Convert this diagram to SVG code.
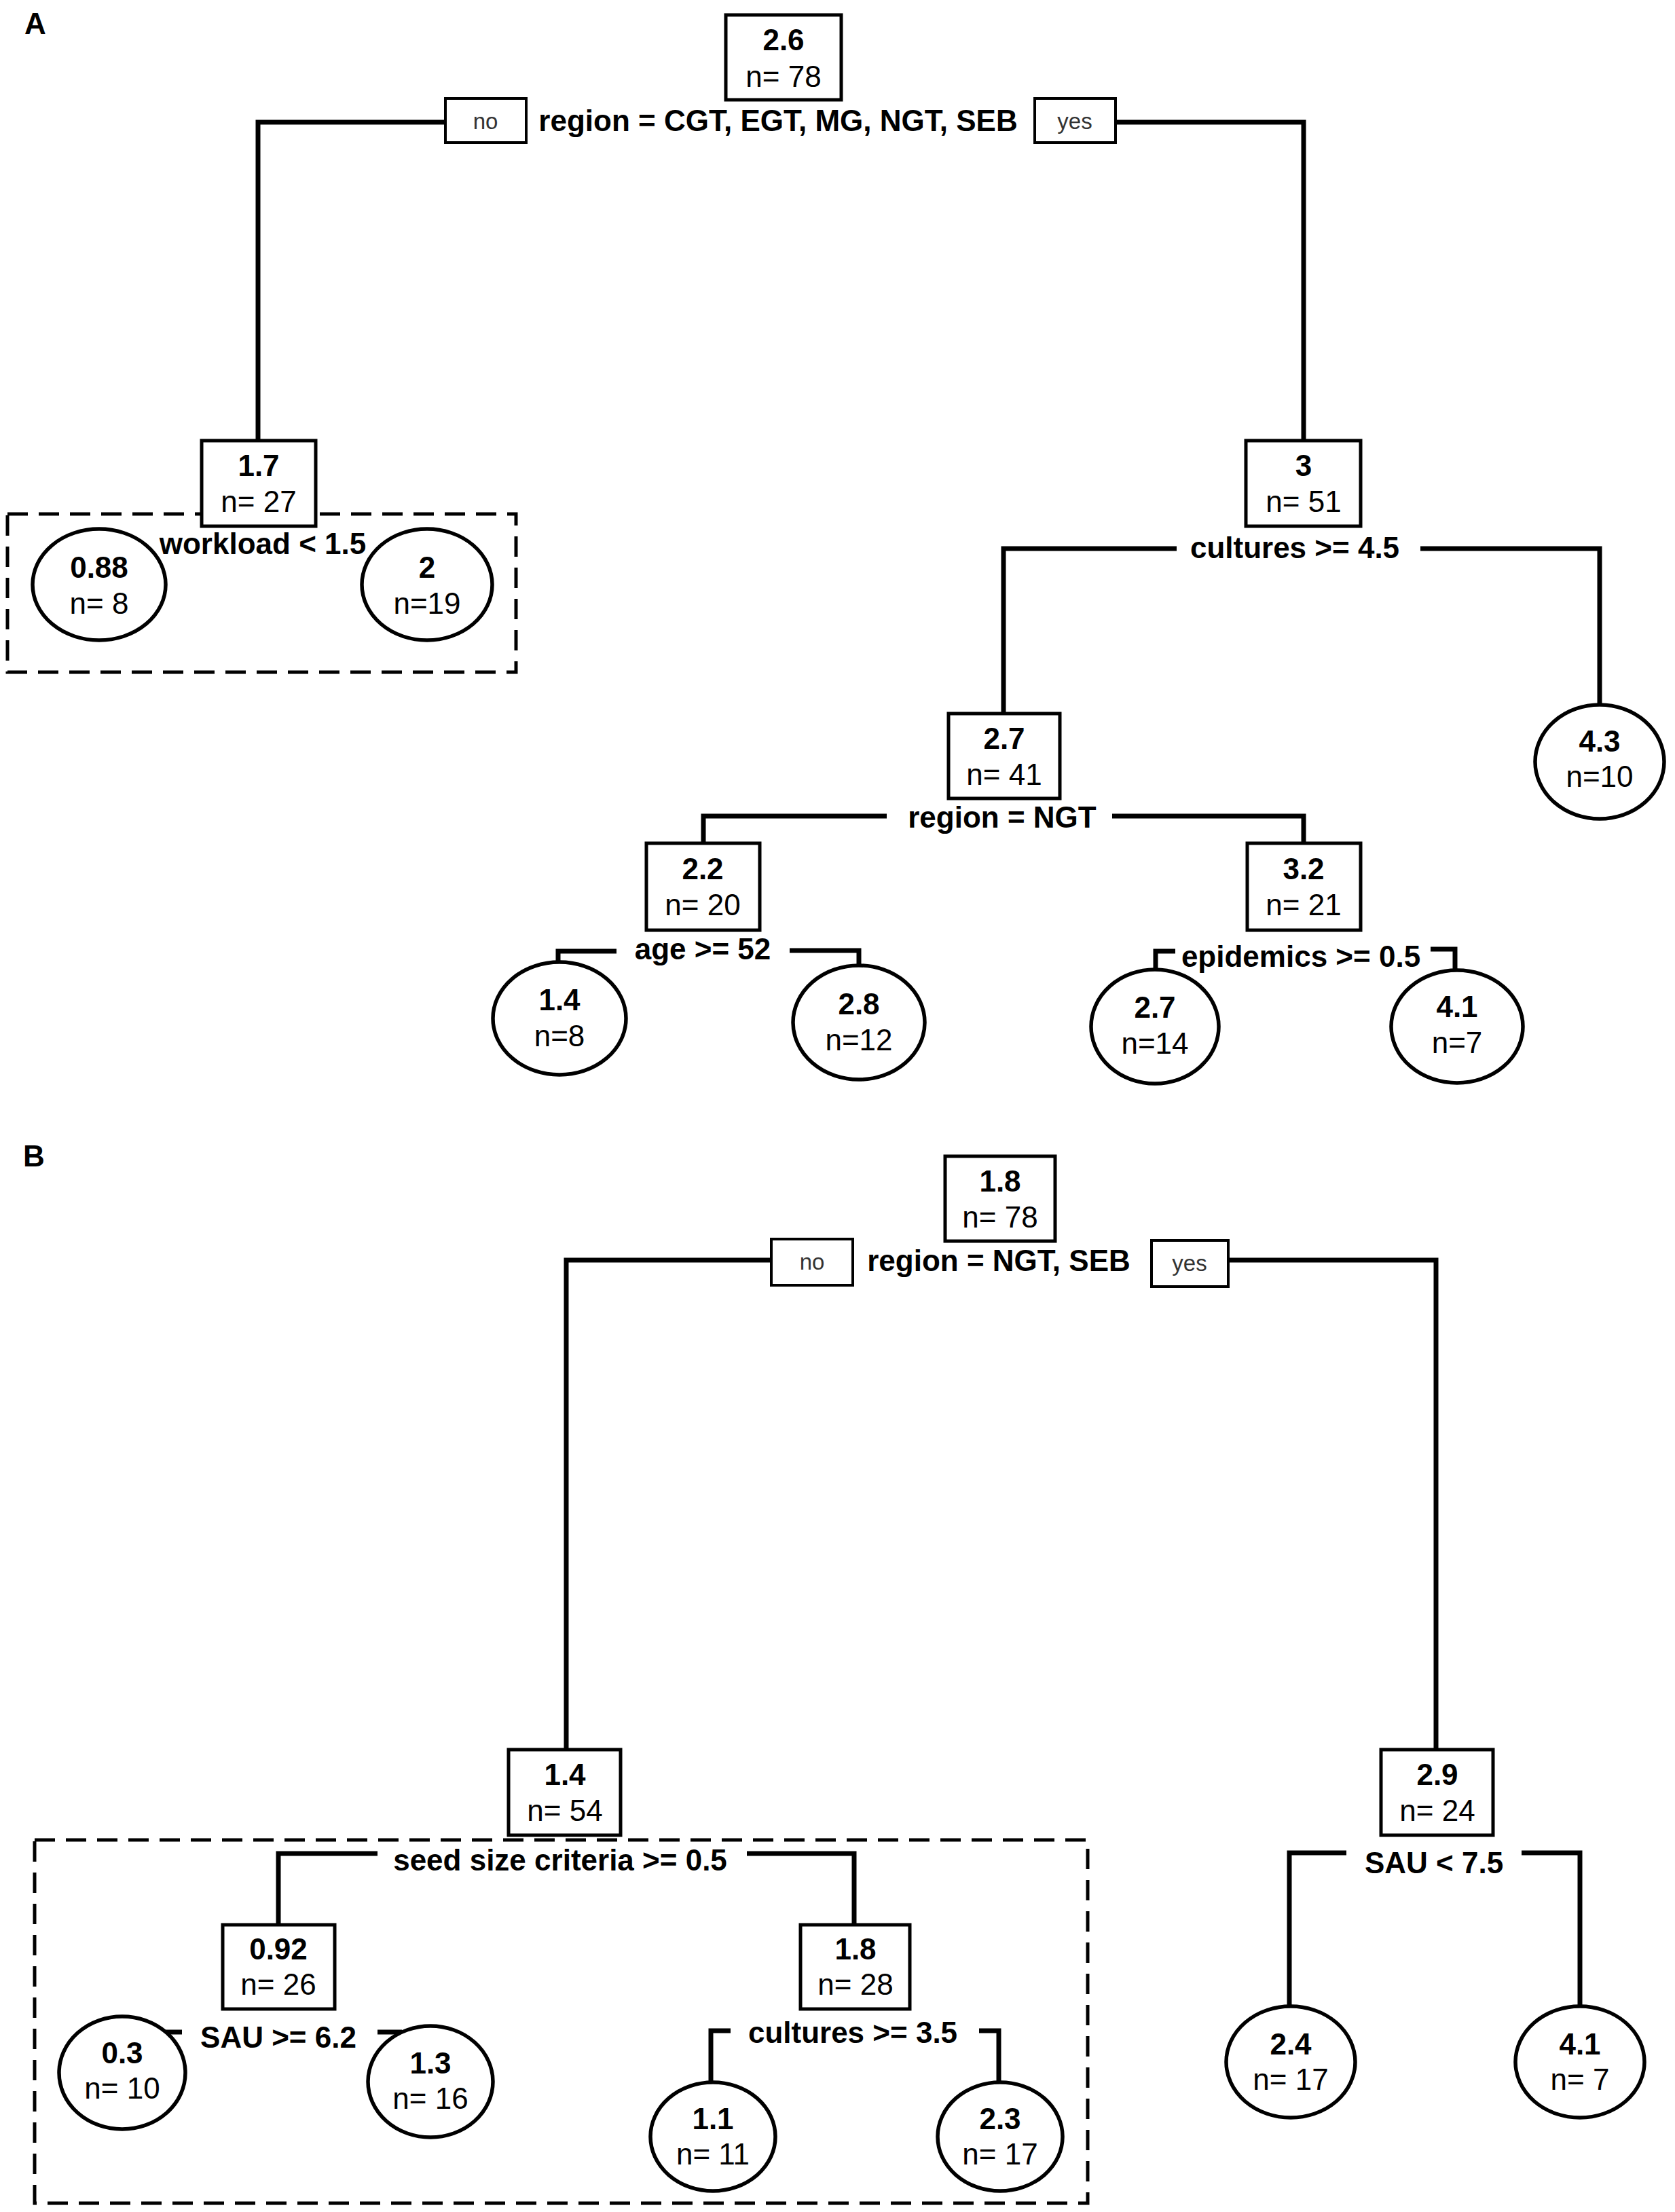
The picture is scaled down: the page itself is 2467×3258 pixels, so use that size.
<svg xmlns="http://www.w3.org/2000/svg" width="2467" height="3258" viewBox="0 0 2467 3258">
<style>
.bg{fill:#fff}
.box{fill:#fff;stroke:#000;stroke-width:5}
.leaf{fill:#fff;stroke:#000;stroke-width:5.5}
.yn{fill:#fff;stroke:#000;stroke-width:4}
.edge{fill:none;stroke:#000;stroke-width:7;stroke-linejoin:miter}
.dash{fill:none;stroke:#000;stroke-width:5;stroke-dasharray:30 16}
text{font-family:"Liberation Sans",Arial,sans-serif;text-anchor:middle;fill:#000}
.v{font-size:44px;font-weight:bold}
.n{font-size:44px}
.lbl{font-size:44px;font-weight:bold}
.ynt{font-size:33px;fill:#333}
.panel{font-size:44px;font-weight:bold;text-anchor:start}
</style>
<rect class="bg" x="0" y="0" width="2467" height="3258"/>

<text class="panel" x="36" y="50">A</text>
<text class="panel" x="34" y="1718">B</text>

<g id="groups">
<rect class="dash" x="11" y="757" width="749" height="233"/>
<rect class="dash" x="51" y="2710" width="1551" height="535"/>
</g>

<g id="connectors">
<path class="edge" d="M656 180 H380 V649"/>
<path class="edge" d="M1643 180 H1920 V649"/>
<path class="edge" d="M1733 808 H1478 V1051"/>
<path class="edge" d="M2092 808 H2356 V1038"/>
<path class="edge" d="M1306 1202 H1036 V1242"/>
<path class="edge" d="M1638 1202 H1920 V1242"/>
<path class="edge" d="M908 1401 H822 V1417"/>
<path class="edge" d="M1163 1400 H1265 V1422"/>
<path class="edge" d="M1731 1401 H1702 V1428"/>
<path class="edge" d="M2107 1398 H2143 V1429"/>
<path class="edge" d="M1136 1856 H834 V2577"/>
<path class="edge" d="M1809 1856 H2115 V2577"/>
<path class="edge" d="M556 2730 H410 V2835"/>
<path class="edge" d="M1100 2730 H1258 V2835"/>
<path class="edge" d="M268 2993 H244"/>
<path class="edge" d="M556 2993 H592"/>
<path class="edge" d="M1076 2991 H1047 V3067"/>
<path class="edge" d="M1442 2991 H1471 V3067"/>
<path class="edge" d="M1983 2729 H1899 V2955"/>
<path class="edge" d="M2241 2729 H2327 V2955"/>
</g>

<g id="split-labels">
<rect class="yn" x="656" y="145" width="119" height="65"/>
<text class="ynt" x="715" y="190">no</text>
<text class="lbl" x="1146" y="193">region = CGT, EGT, MG, NGT, SEB</text>
<rect class="yn" x="1524" y="145" width="119" height="65"/>
<text class="ynt" x="1583" y="190">yes</text>
<text class="lbl" x="387" y="816">workload &lt; 1.5</text>
<text class="lbl" x="1907" y="822">cultures &gt;= 4.5</text>
<text class="lbl" x="1476" y="1219">region = NGT</text>
<text class="lbl" x="1035" y="1413">age &gt;= 52</text>
<text class="lbl" x="1916" y="1424">epidemics &gt;= 0.5</text>
<rect class="yn" x="1136" y="1825" width="120" height="68"/>
<text class="ynt" x="1196" y="1870">no</text>
<text class="lbl" x="1471" y="1872">region = NGT, SEB</text>
<rect class="yn" x="1696" y="1827" width="113" height="68"/>
<text class="ynt" x="1752" y="1872">yes</text>
<text class="lbl" x="825" y="2755">seed size criteria &gt;= 0.5</text>
<text class="lbl" x="410" y="3016">SAU &gt;= 6.2</text>
<text class="lbl" x="1256" y="3009">cultures &gt;= 3.5</text>
<text class="lbl" x="2112" y="2759">SAU &lt; 7.5</text>
</g>

<!-- Panel A nodes -->
<g id="nA1"><rect class="box" x="1069" y="22" width="170" height="125"/><text class="v" x="1154" y="74">2.6</text><text class="n" x="1154" y="128">n= 78</text></g>
<g id="nA2"><rect class="box" x="297" y="649" width="168" height="126"/><text class="v" x="381" y="701">1.7</text><text class="n" x="381" y="754">n= 27</text></g>
<g id="nA3"><rect class="box" x="1835" y="649" width="169" height="126"/><text class="v" x="1920" y="701">3</text><text class="n" x="1920" y="754">n= 51</text></g>
<g id="nA4"><ellipse class="leaf" cx="146" cy="861" rx="98" ry="82"/><text class="v" x="146" y="851">0.88</text><text class="n" x="146" y="904">n= 8</text></g>
<g id="nA5"><ellipse class="leaf" cx="629" cy="861" rx="96" ry="82"/><text class="v" x="629" y="851">2</text><text class="n" x="629" y="904">n=19</text></g>
<g id="nA6"><rect class="box" x="1397" y="1051" width="164" height="125"/><text class="v" x="1479" y="1103">2.7</text><text class="n" x="1479" y="1156">n= 41</text></g>
<g id="nA7"><ellipse class="leaf" cx="2356" cy="1122" rx="95" ry="84"/><text class="v" x="2356" y="1107">4.3</text><text class="n" x="2356" y="1159">n=10</text></g>
<g id="nA8"><rect class="box" x="952" y="1242" width="167" height="128"/><text class="v" x="1035" y="1295">2.2</text><text class="n" x="1035" y="1348">n= 20</text></g>
<g id="nA9"><rect class="box" x="1837" y="1242" width="167" height="128"/><text class="v" x="1920" y="1295">3.2</text><text class="n" x="1920" y="1348">n= 21</text></g>
<g id="nA10"><ellipse class="leaf" cx="824" cy="1500" rx="98" ry="83"/><text class="v" x="824" y="1488">1.4</text><text class="n" x="824" y="1541">n=8</text></g>
<g id="nA11"><ellipse class="leaf" cx="1265" cy="1506" rx="97" ry="84"/><text class="v" x="1265" y="1494">2.8</text><text class="n" x="1265" y="1547">n=12</text></g>
<g id="nA12"><ellipse class="leaf" cx="1701" cy="1512" rx="94" ry="84"/><text class="v" x="1701" y="1499">2.7</text><text class="n" x="1701" y="1552">n=14</text></g>
<g id="nA13"><ellipse class="leaf" cx="2146" cy="1512" rx="97" ry="83"/><text class="v" x="2146" y="1498">4.1</text><text class="n" x="2146" y="1551">n=7</text></g>

<!-- Panel B nodes -->
<g id="nB1"><rect class="box" x="1392" y="1703" width="162" height="125"/><text class="v" x="1473" y="1755">1.8</text><text class="n" x="1473" y="1808">n= 78</text></g>
<g id="nB2"><rect class="box" x="749" y="2577" width="165" height="126"/><text class="v" x="832" y="2629">1.4</text><text class="n" x="832" y="2682">n= 54</text></g>
<g id="nB3"><rect class="box" x="2034" y="2577" width="165" height="126"/><text class="v" x="2117" y="2629">2.9</text><text class="n" x="2117" y="2682">n= 24</text></g>
<g id="nB4"><rect class="box" x="328" y="2835" width="165" height="124"/><text class="v" x="410" y="2886">0.92</text><text class="n" x="410" y="2938">n= 26</text></g>
<g id="nB5"><rect class="box" x="1179" y="2835" width="161" height="124"/><text class="v" x="1260" y="2886">1.8</text><text class="n" x="1260" y="2938">n= 28</text></g>
<g id="nB6"><ellipse class="leaf" cx="180" cy="3053" rx="93" ry="83"/><text class="v" x="180" y="3039">0.3</text><text class="n" x="180" y="3091">n= 10</text></g>
<g id="nB7"><ellipse class="leaf" cx="634" cy="3066" rx="92" ry="82"/><text class="v" x="634" y="3054">1.3</text><text class="n" x="634" y="3106">n= 16</text></g>
<g id="nB8"><ellipse class="leaf" cx="1050" cy="3147" rx="92" ry="80"/><text class="v" x="1050" y="3136">1.1</text><text class="n" x="1050" y="3188">n= 11</text></g>
<g id="nB9"><ellipse class="leaf" cx="1473" cy="3147" rx="92" ry="80"/><text class="v" x="1473" y="3136">2.3</text><text class="n" x="1473" y="3188">n= 17</text></g>
<g id="nB10"><ellipse class="leaf" cx="1901" cy="3037" rx="95" ry="82"/><text class="v" x="1901" y="3026">2.4</text><text class="n" x="1901" y="3078">n= 17</text></g>
<g id="nB11"><ellipse class="leaf" cx="2327" cy="3037" rx="95" ry="82"/><text class="v" x="2327" y="3026">4.1</text><text class="n" x="2327" y="3078">n= 7</text></g>
</svg>
